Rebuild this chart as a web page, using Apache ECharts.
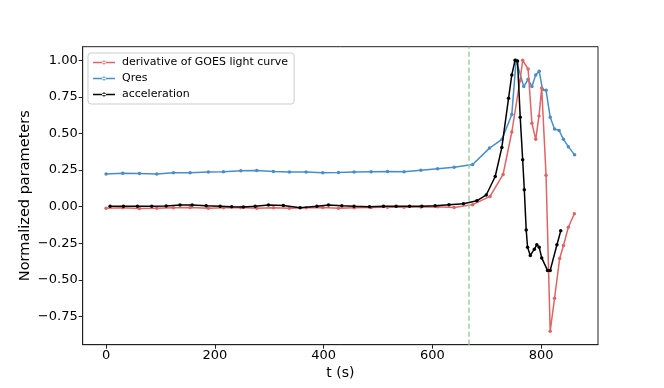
<!DOCTYPE html>
<html>
<head>
<meta charset="utf-8">
<script src="https://cdn.jsdelivr.net/npm/echarts@6/dist/echarts.min.js"></script>
<style>html,body{margin:0;padding:0;background:#fff}#c{width:664px;height:388px}</style>
</head>
<body>
<div id="c"></div>
<script>
// ---- data ----
const goesT = [0,30.6,61.3,93.2,123.8,154.5,188,215.8,247.7,277,307.7,337,367.8,398.5,427.3,456,487.4,517.4,548,578.8,609.4,640,
  674,706,730,746,761,766,776,783,790,796,801,809,816.6,824.6,834,841,850,861];
const goesV = [-0.01,-0.008,-0.012,-0.01,-0.008,-0.006,-0.01,-0.008,-0.006,-0.01,-0.008,-0.01,-0.008,-0.006,-0.01,-0.008,-0.006,-0.004,-0.004,-0.002,0.0,-0.005,
  0.014,0.07,0.22,0.51,0.86,1.0,0.94,0.57,0.46,0.62,0.81,0.215,-0.85,-0.626,-0.354,-0.265,-0.14,-0.048];

const qresT = [0,30.6,61.3,93.2,123.8,154.5,188,215.8,247.7,277,307.7,337,367.8,398.5,427.3,456,487.4,517.4,548,578.8,609.4,640,
  674,705,728,746,754,768,776,783,790,796.4,802.5,809,816.6,824.6,833,841,850,861.4];
const qresV = [0.224,0.229,0.227,0.224,0.231,0.231,0.236,0.238,0.245,0.247,0.240,0.236,0.236,0.231,0.233,0.236,0.238,0.240,0.238,0.249,0.259,0.270,
  0.288,0.40,0.46,0.63,1.0,0.82,0.87,0.82,0.90,0.925,0.80,0.795,0.61,0.53,0.52,0.46,0.41,0.354];

const accT = [7.4,31.9,57.6,84,110.4,136,158.2,184,209.7,231,252.5,274,298.5,326,356.8,387.5,409,433.5,456,484.3,510,533.4,558,580.6,605,630.5,
  657,681.8,699,715.5,727.7,740,746,752,756.5,761.5,766,769,772.5,775,780,787.5,792,796.4,801,811.7,816.6,829,836];
const accV = [0.003,0.003,0.003,0.003,0.005,0.012,0.012,0.006,0.003,0.0,-0.002,0.003,0.012,0.008,-0.008,0.003,0.012,0.006,0.003,0.0,0.003,0.003,0.003,0.003,0.006,0.014,
  0.02,0.04,0.08,0.206,0.405,0.74,0.90,1.0,0.995,0.61,0.32,0.116,-0.16,-0.277,-0.333,-0.29,-0.26,-0.277,-0.35,-0.435,-0.435,-0.26,-0.165];

const seriesNames = ['derivative of GOES light curve', 'Qres', 'acceleration'];
const xTicks = [0, 200, 400, 600, 800];
const yTicks = [-0.75, -0.5, -0.25, 0, 0.25, 0.5, 0.75, 1.0];
const vLineT = 667.6;
const xLabel = 't (s)';
const yLabel = 'Normalized parameters';

// ---- chart ----
const zip = (t, v) => t.map((x, i) => [x, v[i]]);
const fmtY = v => { const s = Math.abs(v).toFixed(2); return v < 0 ? '\u2212' + s : s; };
const FONT = 'DejaVu Sans';
// legend icon: thin line with a small dot in the middle (bbox 22 x 4)
const LEG_ICON = 'path://M0,1.25L22,1.25L22,2.75L0,2.75Z M9,2A2,2 0 1,0 13,2A2,2 0 1,0 9,2Z';
const chart = echarts.init(document.getElementById('c'), null, {renderer: 'canvas'});
const mk = (name, data, color, z) => ({
  name, type: 'line', data, z,
  symbol: 'circle', symbolSize: 3.5, showSymbol: true,
  lineStyle: {color, width: 1.5}, itemStyle: {color},
  emphasis: {disabled: true}, animation: false
});
chart.setOption({
  animation: false,
  textStyle: {fontFamily: FONT},
  grid: {left: 82.7, right: 66, top: 46.7, bottom: 43.3, show: true, borderColor: '#222', borderWidth: 1, backgroundColor: 'transparent'},
  legend: {
    orient: 'vertical', left: 88, top: 53,
    padding: [3, 6, 3, 5], itemWidth: 22, itemHeight: 4, itemGap: 3,
    icon: LEG_ICON,
    backgroundColor: 'rgba(255,255,255,0.85)', borderColor: '#ccc', borderWidth: 1, borderRadius: 3,
    textStyle: {fontFamily: FONT, fontSize: 11, color: '#000', padding: [0, 0, 0, 2], lineHeight: 13},
    data: seriesNames
  },
  xAxis: {
    type: 'value', min: -43, max: 904.5,
    name: xLabel, nameLocation: 'middle', nameGap: 22,
    nameTextStyle: {fontFamily: FONT, fontSize: 14, color: '#000'},
    axisLine: {show: true, onZero: false, lineStyle: {color: '#222', width: 1}},
    axisTick: {show: true, length: 4, lineStyle: {color: '#222'}, customValues: xTicks},
    axisLabel: {fontFamily: FONT, fontSize: 13, color: '#000', margin: 4, customValues: xTicks, formatter: v => String(v)},
    splitLine: {show: false}
  },
  yAxis: {
    type: 'value', min: -0.9425, max: 1.0925,
    name: yLabel, nameLocation: 'middle', nameGap: 50, nameRotate: 90, nameMoveOverlap: false,
    nameTextStyle: {fontFamily: FONT, fontSize: 14.5, color: '#000'},
    axisLine: {show: true, onZero: false, lineStyle: {color: '#222', width: 1}},
    axisTick: {show: true, length: 4, lineStyle: {color: '#222'}, customValues: yTicks},
    axisLabel: {fontFamily: FONT, fontSize: 13, color: '#000', margin: 5, customValues: yTicks, formatter: fmtY},
    splitLine: {show: false}
  },
  series: [
    mk(seriesNames[0], zip(goesT, goesV), '#e06465', 3),
    mk(seriesNames[1], zip(qresT, qresV), '#4a8dc6', 2),
    Object.assign(mk(seriesNames[2], zip(accT, accV), '#000000', 4), {
      markLine: {
        silent: true, symbol: 'none', animation: false,
        label: {show: false},
        lineStyle: {color: '#9fd09f', type: [5, 3], width: 1.5},
        data: [{xAxis: vLineT}]
      }
    })
  ]
});
</script>
</body>
</html>
